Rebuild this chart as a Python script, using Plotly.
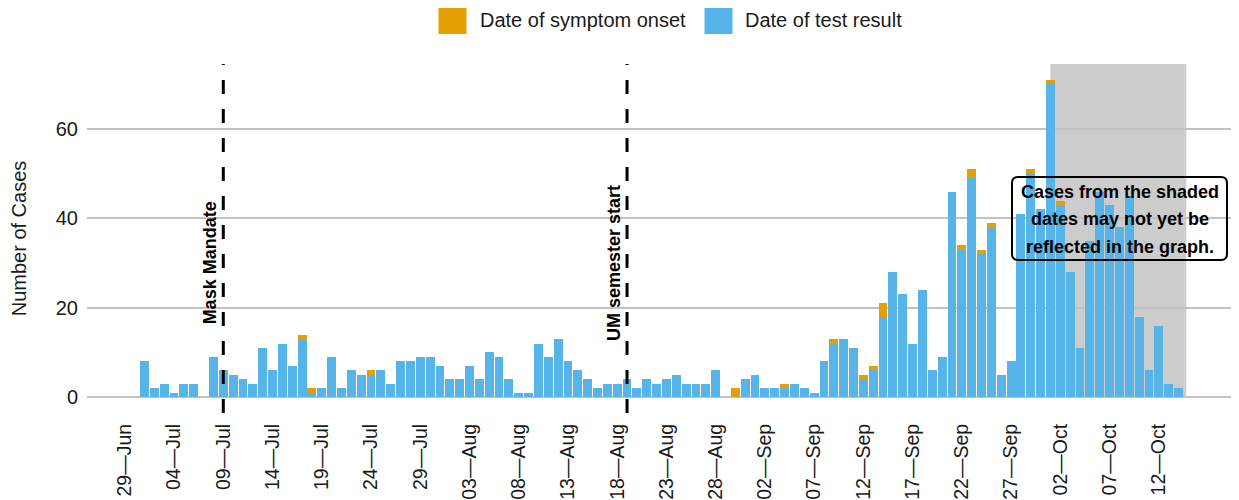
import pandas as pd
import plotly.graph_objects as go

# daily case counts, starting 2020-07-01
start_date = "2020-07-01"
test_result = [
    8, 2, 3, 1, 3, 3, 0, 9, 6, 5, 4, 3, 11, 6, 12, 7, 13, 1, 2, 9,
    2, 6, 5, 5, 6, 3, 8, 8, 9, 9, 7, 4, 4, 7, 4, 10, 9, 4, 1, 1,
    12, 9, 13, 8, 6, 4, 2, 3, 3, 4, 2, 4, 3, 4, 5, 3, 3, 3, 6, 0,
    0, 4, 5, 2, 2, 2, 3, 2, 1, 8, 12, 13, 11, 4, 6, 18, 28, 23, 12, 24,
    6, 9, 46, 33, 49, 32, 38, 5, 8, 41, 50, 42, 70, 43, 28, 11, 35, 46, 43, 38,
    45, 18, 6, 16, 3, 2,
]
symptom_onset = [
    0, 0, 0, 0, 0, 0, 0, 0, 0, 0, 0, 0, 0, 0, 0, 0, 1, 1, 0, 0,
    0, 0, 0, 1, 0, 0, 0, 0, 0, 0, 0, 0, 0, 0, 0, 0, 0, 0, 0, 0,
    0, 0, 0, 0, 0, 0, 0, 0, 0, 0, 0, 0, 0, 0, 0, 0, 0, 0, 0, 0,
    2, 0, 0, 0, 0, 1, 0, 0, 0, 0, 1, 0, 0, 1, 1, 3, 0, 0, 0, 0,
    0, 0, 0, 1, 2, 1, 1, 0, 0, 0, 1, 0, 1, 1, 0, 0, 0, 0, 0, 0,
    0, 0, 0, 0, 0, 0,
]
dates = pd.date_range(start_date, periods=len(test_result), freq="D")

tick_dates = pd.date_range("2020-06-29", "2020-10-12", freq="5D")
tick_labels = [
    "29—Jun", "04—Jul", "09—Jul", "14—Jul", "19—Jul", "24—Jul", "29—Jul",
    "03—Aug", "08—Aug", "13—Aug", "18—Aug", "23—Aug", "28—Aug",
    "02—Sep", "07—Sep", "12—Sep", "17—Sep", "22—Sep", "27—Sep",
    "02—Oct", "07—Oct", "12—Oct",
]

event_dates = ["2020-07-09", "2020-08-19"]
event_labels = ["Mask Mandate", "UM semester start"]

shade_start = "2020-10-01"
shade_end = "2020-10-14 19:00"

ORANGE = "#E69F00"
BLUE = "#56B4E9"
FONT = "Liberation Sans, Arial, sans-serif"

# the page body adds an 8px margin, so the figure is drawn 8px smaller
OFF = 8
W, H = 1239 - OFF, 500 - OFF
# plot area, in window pixels
PL, PR, PT, PB = 87, 1231, 64, 413
PW, PH = PR - PL, PB - PT


def px(x):
    return (x - PL) / PW


def py(y):
    return (PB - y) / PH


def rounded_rect(x0, y0, x1, y1, r):
    pts = [
        f"M {px(x0 + r)},{py(y0)}",
        f"L {px(x1 - r)},{py(y0)}",
        f"Q {px(x1)},{py(y0)} {px(x1)},{py(y0 + r)}",
        f"L {px(x1)},{py(y1 - r)}",
        f"Q {px(x1)},{py(y1)} {px(x1 - r)},{py(y1)}",
        f"L {px(x0 + r)},{py(y1)}",
        f"Q {px(x0)},{py(y1)} {px(x0)},{py(y1 - r)}",
        f"L {px(x0)},{py(y0 + r)}",
        f"Q {px(x0)},{py(y0)} {px(x0 + r)},{py(y0)}",
        "Z",
    ]
    return " ".join(pts)


fig = go.Figure()
fig.add_trace(go.Bar(x=dates, y=test_result, name="Date of test result",
                     marker=dict(color=BLUE, line=dict(width=0)), showlegend=False))
fig.add_trace(go.Bar(x=dates, y=symptom_onset, name="Date of symptom onset",
                     marker=dict(color=ORANGE, line=dict(width=0)), showlegend=False))

shapes = []
# shaded region (dates that may be incomplete)
shapes.append(dict(type="rect", xref="x", yref="y", x0=shade_start, x1=shade_end,
                   y0=0, y1=74.55, fillcolor="#CCCCCC", line=dict(width=0), layer="below"))
# event lines
for d in event_dates:
    shapes.append(dict(type="line", xref="x", yref="y domain", x0=d, x1=d, y0=0, y1=1,
                       line=dict(color="black", width=3, dash="14px,15px"), layer="above"))
# note box
shapes.append(dict(type="path", xref="paper", yref="paper",
                   path=rounded_rect(1012, 177, 1227, 260, 6),
                   line=dict(color="black", width=2), fillcolor="rgba(0,0,0,0)"))
# legend keys
shapes.append(dict(type="rect", xref="paper", yref="paper", x0=px(438.5), x1=px(466.5),
                   y0=py(34), y1=py(6), fillcolor=ORANGE, line=dict(width=0)))
shapes.append(dict(type="rect", xref="paper", yref="paper", x0=px(704.5), x1=px(732.5),
                   y0=py(34), y1=py(6), fillcolor=BLUE, line=dict(width=0)))

annotations = []
for d, lab in zip(event_dates, event_labels):
    annotations.append(dict(x=d, y=30, xref="x", yref="y", text=f"<b>{lab}</b>",
                            textangle=-90, showarrow=False, xshift=-13,
                            font=dict(family=FONT, size=18, color="black")))
note_lines = ["Cases from the shaded", "dates may not yet be", "reflected in the graph."]
for line, ypx in zip(note_lines, [191.7, 219.3, 246.7]):
    annotations.append(dict(x=px(1119.5), y=py(ypx), xref="paper", yref="paper",
                            text=f"<b>{line}</b>", showarrow=False,
                            xanchor="center", yanchor="middle",
                            font=dict(family=FONT, size=18, color="black")))
for lab, xpx in [("Date of symptom onset", 478), ("Date of test result", 743)]:
    annotations.append(dict(x=px(xpx), y=py(20), xref="paper", yref="paper", text=lab,
                            showarrow=False, xanchor="left", yanchor="middle",
                            font=dict(family=FONT, size=20, color="#1A1A1A")))

fig.update_layout(
    width=W, height=H,
    margin=dict(l=PL - OFF, r=W - (PR - OFF), t=PT - OFF, b=H - (PB - OFF)),
    barmode="stack", bargap=0.1,
    plot_bgcolor="white", paper_bgcolor="white",
    font=dict(family=FONT, size=20, color="#1A1A1A"),
    shapes=shapes, annotations=annotations,
    showlegend=False,
)
fig.update_xaxes(
    type="date", range=["2020-06-25 03:50", "2020-10-19 08:00"],
    tickvals=tick_dates, ticktext=tick_labels, tickangle=-90,
    tickfont=dict(size=19.5, color="#1A1A1A"), ticks="", showgrid=False,
    zeroline=False, showline=False, ticklabelstandoff=6, automargin=False,
)
fig.update_yaxes(
    range=[-3.55, 74.55], tickvals=[0, 20, 40, 60], ticks="",
    showgrid=True, gridcolor="#C2C2C2", gridwidth=1.5, zeroline=False,
    showline=False, tickfont=dict(size=20, color="#1A1A1A"),
    ticklabelstandoff=8, automargin=False,
    title=dict(text="Number of Cases", font=dict(size=20, color="#1A1A1A"), standoff=26),
)

fig.write_html("out.html")
